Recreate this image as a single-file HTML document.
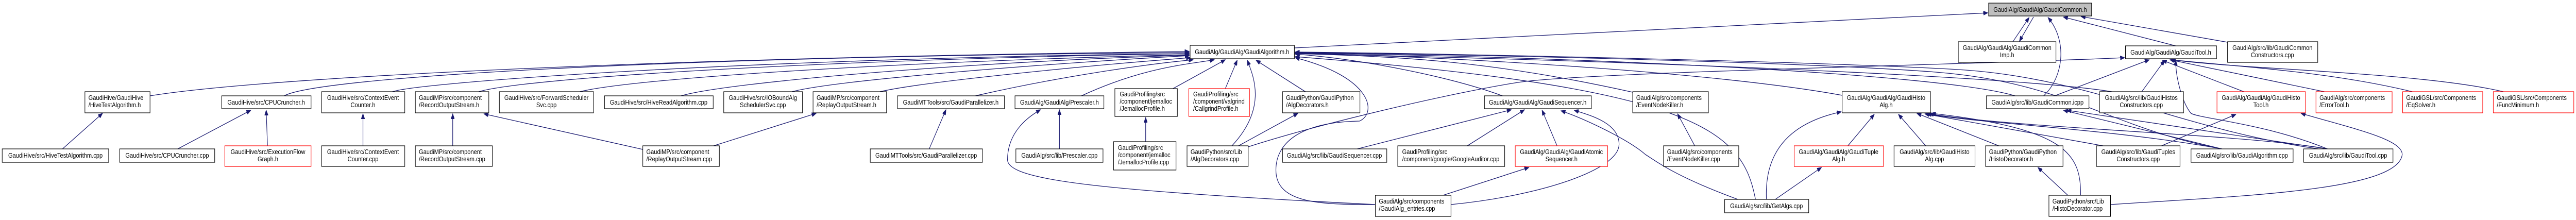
<!DOCTYPE html>
<html><head><meta charset="utf-8"><style>
html,body{margin:0;padding:0;background:#fff;width:100%;height:100%;overflow:hidden;}
svg{display:block;width:100vw;height:100vh;}
text{font-family:"Liberation Sans",Arial,sans-serif;font-size:13px;fill:#000;}
.b{fill:#fff;stroke:#000;stroke-width:1.2;}
.r{fill:#fff;stroke:#f00;stroke-width:1.2;}
.g{fill:#bfbfbf;stroke:#000;stroke-width:1.2;}
.e{fill:none;stroke:#191970;stroke-width:1.3;}
</style></head><body>
<svg viewBox="0 0 5855 427" preserveAspectRatio="none" xmlns="http://www.w3.org/2000/svg" overflow="hidden">
<defs><marker id="a" markerUnits="userSpaceOnUse" markerWidth="11" markerHeight="8" refX="10" refY="4" orient="auto"><path d="M0,0 L10,4 L0,8 z" fill="#191970" stroke="#191970"/></marker></defs>
<g class="e" marker-end="url(#a)">
<path d="M341,186 C600,150 1500,112 2703,100"/>
<path d="M646,186 C720,150 1500,110 2703,102"/>
<path d="M892,178 C950,160 1700,113 2703,104"/>
<path d="M1088,178 C1200,150 1900,115 2703,104"/>
<path d="M1318,178 C1450,150 2100,118 2703,106"/>
<path d="M1548,186 C1650,160 2200,120 2703,107"/>
<path d="M1800,178 C1900,155 2400,122 2703,108"/>
<path d="M2000,178 C2100,158 2500,125 2706,112"/>
<path d="M2217,186 C2400,150 2600,125 2712,116"/>
<path d="M2458,186 C2600,130 2700,125 2760,116"/>
<path d="M2666,172 L2785,116"/>
<path d="M2785,172 L2812,117"/>
<path d="M2800,283 C2880,210 2850,150 2835,117"/>
<path d="M2967,178 L2855,117"/>
<path d="M3415,186 C3300,150 3100,115 2944,105"/>
<path d="M3711,179 C3400,120 3200,110 2944,104"/>
<path d="M4187,185 C3900,140 3300,110 2944,103"/>
<path d="M4580,186 C4400,140 3500,108 2944,103"/>
<path d="M4800,178 C4600,150 3800,120 2944,104"/>
<path d="M5050,289 C4800,250 4700,160 4400,140 S3300,105 2944,102"/>
<path d="M5270,289 C4950,250 4750,150 4450,135 S3300,104 2944,101"/>
<path d="M3990,387 C3960,250 3850,170 2944,110"/>
<path d="M3126,397 C3000,397 2900,395 2900,330 C2900,280 2950,237 3090,235 C3130,220 3120,150 2944,112"/>
<path d="M2942,93 L4518,25"/>
<path d="M4575,81 L4612,34"/>
<path d="M4622,33 L4590,80"/>
<path d="M4645,186 C4690,150 4700,80 4655,34"/>
<path d="M4945,89 L4690,33"/>
<path d="M5063,82 L4730,32"/>
<path d="M2837,285 C3000,240 3300,180 3450,160 S4500,125 4829,112"/>
<path d="M4670,186 L4885,116"/>
<path d="M4868,178 L4920,117"/>
<path d="M5100,178 L4915,117"/>
<path d="M5290,289 C5150,240 5000,230 4980,220 C4960,200 4945,150 4945,117"/>
<path d="M5283,178 L4932,116"/>
<path d="M5483,178 C5300,140 5100,130 4935,116"/>
<path d="M5690,178 C5500,140 5100,135 4935,116"/>
<path d="M142,289 L233,220"/>
<path d="M404,289 L570,214"/>
<path d="M608,283 L605,214"/>
<path d="M825,283 L825,221"/>
<path d="M1029,283 L1029,221"/>
<path d="M1461,290 L1100,221"/>
<path d="M1622,283 L1855,220"/>
<path d="M2112,289 L2150,213"/>
<path d="M2408,289 L2408,213"/>
<path d="M3126,397 C2500,370 2290,350 2290,310 C2290,260 2330,230 2365,213"/>
<path d="M2604,275 L2604,228"/>
<path d="M2815,283 L2950,220"/>
<path d="M3085,289 L3435,213"/>
<path d="M3335,283 L3465,213"/>
<path d="M3539,283 L3505,214"/>
<path d="M3298,397 C3500,380 3680,330 3680,280 C3680,240 3620,225 3578,214"/>
<path d="M3950,387 C3800,340 3760,310 3740,300 C3700,270 3600,230 3548,215"/>
<path d="M3280,379 L3475,325"/>
<path d="M3852,283 L3813,221"/>
<path d="M4015,387 C4010,300 4060,240 4185,217"/>
<path d="M4035,387 L4140,325"/>
<path d="M4200,283 L4260,222"/>
<path d="M4377,283 L4315,222"/>
<path d="M4543,283 L4357,220"/>
<path d="M4780,283 L4375,221"/>
<path d="M5050,289 C4800,250 4500,240 4380,221"/>
<path d="M5290,289 C5100,260 4600,250 4385,221"/>
<path d="M4700,379 L4632,325"/>
<path d="M4729,380 C4730,300 4700,250 4390,220"/>
<path d="M4797,397 C5100,380 5450,370 5460,300 C5460,270 5350,250 5230,220"/>
<path d="M4913,283 L5082,222"/>
<path d="M5050,289 L4690,214"/>
<path d="M5290,289 L4698,214"/>
</g>
<g>
<rect class="b" x="193" y="178" width="148" height="41"/><text x="201" y="194">GaudiHive/GaudiHive</text><text x="201" y="208">/HiveTestAlgorithm.h</text>
<rect class="b" x="504" y="186" width="203" height="25"/><text x="605" y="203" text-anchor="middle">GaudiHive/src/CPUCruncher.h</text>
<rect class="b" x="731" y="178" width="189" height="41"/><text x="825" y="194" text-anchor="middle">GaudiHive/src/ContextEvent</text><text x="825" y="208" text-anchor="middle">Counter.h</text>
<rect class="b" x="944" y="178" width="167" height="41"/><text x="952" y="194">GaudiMP/src/component</text><text x="952" y="208">/RecordOutputStream.h</text>
<rect class="b" x="1135" y="178" width="214" height="41"/><text x="1242" y="194" text-anchor="middle">GaudiHive/src/ForwardScheduler</text><text x="1242" y="208" text-anchor="middle">Svc.cpp</text>
<rect class="b" x="1374" y="186" width="247" height="25"/><text x="1497" y="203" text-anchor="middle">GaudiHive/src/HiveReadAlgorithm.cpp</text>
<rect class="b" x="1645" y="178" width="179" height="41"/><text x="1734" y="194" text-anchor="middle">GaudiHive/src/IOBoundAlg</text><text x="1734" y="208" text-anchor="middle">SchedulerSvc.cpp</text>
<rect class="b" x="1848" y="178" width="167" height="41"/><text x="1856" y="194">GaudiMP/src/component</text><text x="1856" y="208">/ReplayOutputStream.h</text>
<rect class="b" x="2040" y="186" width="243" height="25"/><text x="2161" y="203" text-anchor="middle">GaudiMTTools/src/GaudiParallelizer.h</text>
<rect class="b" x="2307" y="186" width="202" height="25"/><text x="2408" y="203" text-anchor="middle">GaudiAlg/GaudiAlg/Prescaler.h</text>
<rect class="b" x="2534" y="172" width="142" height="54"/><text x="2545" y="187">GaudiProfiling/src</text><text x="2545" y="201">/component/jemalloc</text><text x="2545" y="215">/JemallocProfile.h</text>
<rect class="r" x="2702" y="172" width="138" height="54"/><text x="2712" y="187">GaudiProfiling/src</text><text x="2712" y="201">/component/valgrind</text><text x="2712" y="215">/CallgrindProfile.h</text>
<rect class="b" x="2915" y="178" width="176" height="41"/><text x="2923" y="194">GaudiPython/GaudiPython</text><text x="2923" y="208">/AlgDecorators.h</text>
<rect class="b" x="3374" y="186" width="243" height="25"/><text x="3495" y="203" text-anchor="middle">GaudiAlg/GaudiAlg/GaudiSequencer.h</text>
<rect class="b" x="3711" y="178" width="172" height="41"/><text x="3719" y="194">GaudiAlg/src/components</text><text x="3719" y="208">/EventNodeKiller.h</text>
<rect class="b" x="4187" y="178" width="201" height="41"/><text x="4287" y="194" text-anchor="middle">GaudiAlg/GaudiAlg/GaudiHisto</text><text x="4287" y="208" text-anchor="middle">Alg.h</text>
<rect class="b" x="4515" y="186" width="233" height="25"/><text x="4631" y="203" text-anchor="middle">GaudiAlg/src/lib/GaudiCommon.icpp</text>
<rect class="b" x="4772" y="178" width="191" height="41"/><text x="4867" y="194" text-anchor="middle">GaudiAlg/src/lib/GaudiHistos</text><text x="4867" y="208" text-anchor="middle">Constructors.cpp</text>
<rect class="r" x="5039" y="178" width="201" height="41"/><text x="5139" y="194" text-anchor="middle">GaudiAlg/GaudiAlg/GaudiHisto</text><text x="5139" y="208" text-anchor="middle">Tool.h</text>
<rect class="r" x="5264" y="178" width="173" height="41"/><text x="5272" y="194">GaudiAlg/src/components</text><text x="5272" y="208">/ErrorTool.h</text>
<rect class="r" x="5461" y="178" width="182" height="41"/><text x="5469" y="194">GaudiGSL/src/Components</text><text x="5469" y="208">/EqSolver.h</text>
<rect class="r" x="5667" y="178" width="183" height="41"/><text x="5675" y="194">GaudiGSL/src/Components</text><text x="5675" y="208">/FuncMinimum.h</text>
<rect class="g" x="4520" y="6" width="234" height="25"/><text x="4637" y="23" text-anchor="middle">GaudiAlg/GaudiAlg/GaudiCommon.h</text>
<rect class="b" x="2705" y="88" width="237" height="26"/><text x="2823" y="105" text-anchor="middle">GaudiAlg/GaudiAlg/GaudiAlgorithm.h</text>
<rect class="b" x="4451" y="81" width="222" height="40"/><text x="4562" y="97" text-anchor="middle">GaudiAlg/GaudiAlg/GaudiCommon</text><text x="4562" y="111" text-anchor="middle">Imp.h</text>
<rect class="b" x="4831" y="89" width="207" height="25"/><text x="4934" y="106" text-anchor="middle">GaudiAlg/GaudiAlg/GaudiTool.h</text>
<rect class="b" x="5063" y="81" width="205" height="40"/><text x="5165" y="97" text-anchor="middle">GaudiAlg/src/lib/GaudiCommon</text><text x="5165" y="111" text-anchor="middle">Constructors.cpp</text>
<rect class="b" x="5" y="289" width="242" height="26"/><text x="126" y="306" text-anchor="middle">GaudiHive/src/HiveTestAlgorithm.cpp</text>
<rect class="b" x="272" y="289" width="216" height="26"/><text x="380" y="306" text-anchor="middle">GaudiHive/src/CPUCruncher.cpp</text>
<rect class="r" x="511" y="283" width="196" height="40"/><text x="609" y="299" text-anchor="middle">GaudiHive/src/ExecutionFlow</text><text x="609" y="313" text-anchor="middle">Graph.h</text>
<rect class="b" x="731" y="283" width="189" height="40"/><text x="825" y="299" text-anchor="middle">GaudiHive/src/ContextEvent</text><text x="825" y="313" text-anchor="middle">Counter.cpp</text>
<rect class="b" x="944" y="283" width="175" height="40"/><text x="952" y="299">GaudiMP/src/component</text><text x="952" y="313">/RecordOutputStream.cpp</text>
<rect class="b" x="1461" y="283" width="174" height="40"/><text x="1469" y="299">GaudiMP/src/component</text><text x="1469" y="313">/ReplayOutputStream.cpp</text>
<rect class="b" x="1978" y="289" width="255" height="26"/><text x="2105" y="306" text-anchor="middle">GaudiMTTools/src/GaudiParallelizer.cpp</text>
<rect class="b" x="2309" y="289" width="198" height="26"/><text x="2408" y="306" text-anchor="middle">GaudiAlg/src/lib/Prescaler.cpp</text>
<rect class="b" x="2531" y="275" width="142" height="55"/><text x="2541" y="291">GaudiProfiling/src</text><text x="2541" y="305">/component/jemalloc</text><text x="2541" y="319">/JemallocProfile.cpp</text>
<rect class="b" x="2698" y="283" width="139" height="40"/><text x="2706" y="299">GaudiPython/src/Lib</text><text x="2706" y="313">/AlgDecorators.cpp</text>
<rect class="b" x="2915" y="289" width="237" height="26"/><text x="3033" y="306" text-anchor="middle">GaudiAlg/src/lib/GaudiSequencer.cpp</text>
<rect class="b" x="3177" y="283" width="243" height="40"/><text x="3187" y="299">GaudiProfiling/src</text><text x="3187" y="313">/component/google/GoogleAuditor.cpp</text>
<rect class="r" x="3444" y="283" width="210" height="40"/><text x="3549" y="299" text-anchor="middle">GaudiAlg/GaudiAlg/GaudiAtomic</text><text x="3549" y="313" text-anchor="middle">Sequencer.h</text>
<rect class="b" x="3781" y="283" width="171" height="40"/><text x="3789" y="299">GaudiAlg/src/components</text><text x="3789" y="313">/EventNodeKiller.cpp</text>
<rect class="b" x="3126" y="379" width="172" height="41"/><text x="3134" y="395">GaudiAlg/src/components</text><text x="3134" y="409">/GaudiAlg_entries.cpp</text>
<rect class="b" x="3920" y="387" width="191" height="26"/><text x="4015" y="404" text-anchor="middle">GaudiAlg/src/lib/GetAlgs.cpp</text>
<rect class="r" x="4078" y="283" width="203" height="40"/><text x="4179" y="299" text-anchor="middle">GaudiAlg/GaudiAlg/GaudiTuple</text><text x="4179" y="313" text-anchor="middle">Alg.h</text>
<rect class="b" x="4305" y="283" width="184" height="40"/><text x="4397" y="299" text-anchor="middle">GaudiAlg/src/lib/GaudiHisto</text><text x="4397" y="313" text-anchor="middle">Alg.cpp</text>
<rect class="b" x="4513" y="283" width="176" height="40"/><text x="4521" y="299">GaudiPython/GaudiPython</text><text x="4521" y="313">/HistoDecorator.h</text>
<rect class="b" x="4765" y="283" width="190" height="40"/><text x="4860" y="299" text-anchor="middle">GaudiAlg/src/lib/GaudiTuples</text><text x="4860" y="313" text-anchor="middle">Constructors.cpp</text>
<rect class="b" x="4657" y="379" width="140" height="41"/><text x="4665" y="395">GaudiPython/src/Lib</text><text x="4665" y="409">/HistoDecorator.cpp</text>
<rect class="b" x="4980" y="289" width="232" height="26"/><text x="5096" y="306" text-anchor="middle">GaudiAlg/src/lib/GaudiAlgorithm.cpp</text>
<rect class="b" x="5236" y="289" width="203" height="26"/><text x="5337" y="306" text-anchor="middle">GaudiAlg/src/lib/GaudiTool.cpp</text>
</g>
</svg>
</body></html>
